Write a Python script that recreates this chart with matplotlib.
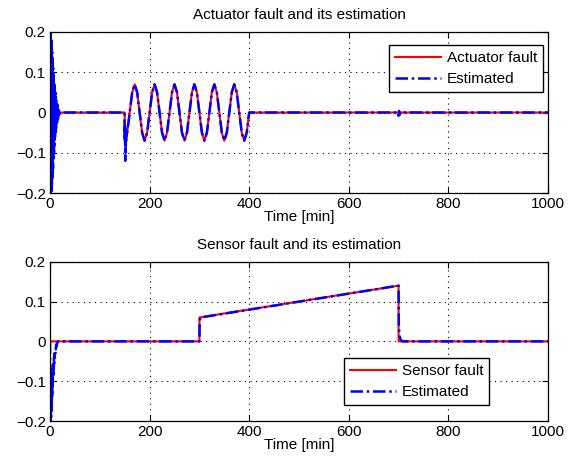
import numpy as np
import matplotlib
matplotlib.use('Agg')
import matplotlib.pyplot as plt

plt.rcParams['font.family'] = ['Liberation Sans', 'DejaVu Sans']

# actuator fault: zero, then sine between 150 and 400 min (sampled every 5 min)
act_sine_t = np.arange(150, 401, 5)
act_sine_v = [
    -0.07, -0.05, 0.0, 0.05, 0.07, 0.05, 0.0, -0.05,
    -0.07, -0.05, 0.0, 0.05, 0.07, 0.05, 0.0, -0.05,
    -0.07, -0.05, 0.0, 0.05, 0.07, 0.05, 0.0, -0.05,
    -0.07, -0.05, 0.0, 0.05, 0.07, 0.05, 0.0, -0.05,
    -0.07, -0.05, 0.0, 0.05, 0.07, 0.05, 0.0, -0.05,
    -0.07, -0.05, 0.0, 0.05, 0.07, 0.05, 0.0, -0.05,
    -0.07, -0.05, 0.0,
]

# estimated actuator fault: start-up transient (0..20 min)
act_est_start = [
    0.0, 0.19, -0.2, 0.2, -0.19, 0.18, -0.2, 0.17, -0.18, 0.15,
    -0.16, 0.13, -0.14, 0.11, -0.12, 0.09, -0.1, 0.07, -0.08, 0.06,
    -0.06, 0.05, -0.05, 0.04, -0.04, 0.03, -0.03, 0.025, -0.025, 0.02,
    -0.02, 0.015, -0.015, 0.01, -0.01, 0.006, -0.006, 0.003, -0.003, 0.001,
    0.0,
]
act_est_jump_t = [149.5, 150, 150.5, 151, 151.5, 152, 152.5, 153, 153.5, 154]
act_est_jump_v = [0.0, -0.07, -0.03, -0.12, -0.05, -0.1, -0.04, -0.07, -0.05, -0.06]
act_est_blip_t = [699, 700, 701, 702, 703]
act_est_blip_v = [0.0, -0.008, 0.004, -0.006, 0.0]

# sensor fault: step at 300, ramp to 700, back to zero
sen_t = [0, 300, 300, 700, 700, 1000]
sen_v = [0.0, 0.0, 0.06, 0.14, 0.0, 0.0]

# estimated sensor fault
sen_est_start = [
    0.0, -0.2, -0.12, -0.2, -0.1, -0.19, -0.09, -0.17, -0.08, -0.14,
    -0.07, -0.11, -0.06, -0.09, -0.05, -0.07, -0.04, -0.055, -0.03, -0.04,
    -0.025, -0.03, -0.018, -0.02, -0.012, -0.014, -0.008, -0.009, -0.005, -0.005,
    -0.003, -0.002, 0.0,
]
sen_est_up_t = [300, 300.5, 301, 302]
sen_est_up_v = [0.0, 0.05, 0.055, 0.06]
sen_est_down_t = [700, 700.5, 701, 702, 703, 705, 708]
sen_est_down_v = [0.14, 0.04, 0.03, 0.015, 0.008, 0.003, 0.0]

# build series
act_t = np.concatenate([[0, 150], act_sine_t, [1000]])
act_v = np.concatenate([[0.0, 0.0], act_sine_v, [0.0]])

t0 = np.linspace(0, 20, len(act_est_start))
act_est_t = np.concatenate([t0, act_est_jump_t, act_sine_t[1:], act_est_blip_t, [1000]])
act_est_v = np.concatenate([act_est_start, act_est_jump_v, act_sine_v[1:], act_est_blip_v, [0.0]])

t1 = np.linspace(0, 16, len(sen_est_start))
sen_est_t = np.concatenate([t1, sen_est_up_t, sen_est_down_t, [1000]])
sen_est_v = np.concatenate([sen_est_start, sen_est_up_v, sen_est_down_v, [0.0]])

fig = plt.figure(figsize=(5.73, 4.63), dpi=100)
ax1 = fig.add_axes([0.0873, 0.583, 0.869, 0.348])
ax2 = fig.add_axes([0.0873, 0.0907, 0.869, 0.344])

dash = (0, (5, 1.5, 1, 1.5))
fs = 11

ax1.plot(act_t, act_v, color='red', lw=1.5, label='Actuator fault')
ax1.plot(act_est_t, act_est_v, color='blue', lw=1.8, ls=dash, label='Estimated')
ax2.plot(sen_t, sen_v, color='red', lw=1.5, label='Sensor fault')
ax2.plot(sen_est_t, sen_est_v, color='blue', lw=1.8, ls=dash, label='Estimated')

for ax, title in [(ax1, 'Actuator fault and its estimation'),
                  (ax2, 'Sensor fault and its estimation')]:
    ax.set_xlim(0, 1000)
    ax.set_ylim(-0.2, 0.2)
    ax.set_xticks([0, 200, 400, 600, 800, 1000])
    ax.set_yticks([-0.2, -0.1, 0, 0.1, 0.2])
    ax.set_yticklabels(['\u22120.2', '\u22120.1', '0', '0.1', '0.2'])
    ax.grid(True, color='black', linestyle=(0, (1, 4)), linewidth=0.8)
    ax.tick_params(direction='in', top=True, right=True, length=4, labelsize=fs, pad=3)
    for s in ax.spines.values():
        s.set_linewidth(0.9)
    ax.set_xlabel('Time [min]', fontsize=fs, labelpad=-1)
    ax.set_title(title, fontsize=fs, pad=9)

ax1.legend(loc='upper right', bbox_to_anchor=(0.99, 0.918), fontsize=fs,
           fancybox=False, edgecolor='black', framealpha=1, handlelength=3,
           handletextpad=0.4, borderpad=0.4, labelspacing=0.45, borderaxespad=0)
ax2.legend(loc='upper left', bbox_to_anchor=(0.59, 0.396), fontsize=fs,
           fancybox=False, edgecolor='black', framealpha=1, handlelength=3,
           handletextpad=0.4, borderpad=0.4, labelspacing=0.45, borderaxespad=0)

fig.savefig('out.png', dpi=100)
